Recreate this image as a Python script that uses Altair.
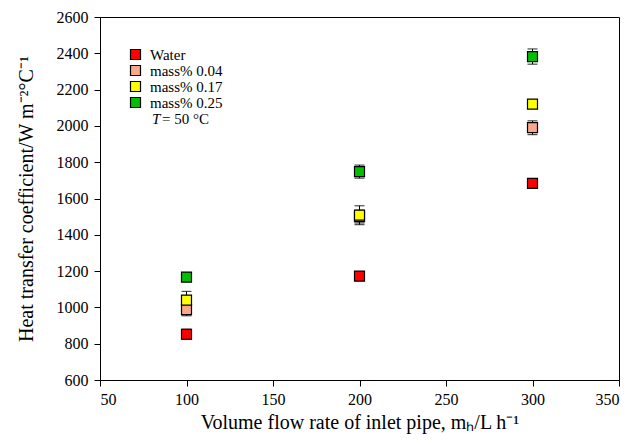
import altair as alt
import pandas as pd

flow = [100, 200, 300]
series = ["Water", "mass% 0.04", "mass% 0.17", "mass% 0.25"]
colors = ["#FF0000", "#FBA88A", "#FFFF00", "#00BF00"]
water = [852, 1172, 1683]
water_err = [28, 18, 18]
m004 = [988, 1500, 1990]
m004_err = [34, 35, 38]
m017 = [1040, 1508, 2120]
m017_err = [48, 52, 22]
m025 = [1167, 1748, 2382]
m025_err = [20, 36, 42]

rows = []
for name, vals, errs in zip(series, [water, m004, m017, m025],
                            [water_err, m004_err, m017_err, m025_err]):
    for f, v, e in zip(flow, vals, errs):
        rows.append({"flow": f, "htc": v, "lo": v - e, "hi": v + e, "series": name})
df = pd.DataFrame(rows)
df["order"] = df["series"].map({s: i for i, s in enumerate(series)})

FONT = "Liberation Serif"

xscale = alt.Scale(domain=[50, 350], nice=False, zero=False)
yscale = alt.Scale(domain=[600, 2600], nice=False, zero=False)
xaxis = alt.Axis(values=[50, 100, 150, 200, 250, 300, 350], format="d",
                 title="Volume flow rate of inlet pipe, mₕ/L h⁻¹")
yaxis = alt.Axis(values=list(range(600, 2601, 200)), format="d",
                 title="Heat transfer coefficient/W m⁻²°C⁻¹")

def X():
    return alt.X("flow:Q", scale=xscale, axis=xaxis)

def Y(field):
    return alt.Y(field, scale=yscale, axis=yaxis)

base = alt.Chart(df)

rule = base.mark_rule(color="black", strokeWidth=1).encode(
    x=X(), y=Y("lo:Q"), y2="hi:Q")
cap_hi = base.mark_tick(color="black", size=10, thickness=1.2,
                        orient="horizontal").encode(x=X(), y=Y("hi:Q"))
cap_lo = base.mark_tick(color="black", size=10, thickness=1.2,
                        orient="horizontal").encode(x=X(), y=Y("lo:Q"))

pts = base.mark_square(size=100, filled=True, stroke="black", strokeWidth=1.2,
                       opacity=1).encode(
    x=X(), y=Y("htc:Q"),
    color=alt.Color("series:N",
                    scale=alt.Scale(domain=series, range=colors),
                    legend=alt.Legend(title=None, orient="none",
                                      legendX=28, legendY=30,
                                      symbolType="square", symbolSize=100,
                                      symbolStrokeColor="black",
                                      symbolStrokeWidth=1.2,
                                      symbolOpacity=1,
                                      labelFont=FONT, labelFontSize=15,
                                      labelColor="black",
                                      rowPadding=0, labelOffset=7)),
    order="order:Q")

note_t = alt.Chart(pd.DataFrame({"t": ["T"]})).mark_text(
    font=FONT, fontSize=15, fontStyle="italic", align="left", baseline="middle",
    color="black").encode(text="t:N", x=alt.value(52), y=alt.value(102))
note = alt.Chart(pd.DataFrame({"t": ["= 50 °C"]})).mark_text(
    font=FONT, fontSize=15, align="left", baseline="middle", color="black").encode(
    text="t:N", x=alt.value(62), y=alt.value(102))

chart = alt.layer(rule, cap_hi, cap_lo, pts, note_t, note).properties(
    width=519, height=363,
    autosize=alt.AutoSizeParams(type="none"),
    padding={"left": 92, "top": 9, "right": 16, "bottom": 58}
).configure_view(stroke="black", strokeWidth=1).configure_axis(
    grid=False, domainColor="black", tickColor="black", tickSize=6,
    labelFont=FONT, labelFontSize=16, labelColor="black",
    titleFont=FONT, titleFontSize=20, titleColor="black", titleFontWeight="normal"
).configure_axisY(titlePadding=20, labelPadding=6).configure_axisX(
    titlePadding=5, labelPadding=5)

chart.save("out.html", embed_options={"renderer": "svg", "actions": False})
